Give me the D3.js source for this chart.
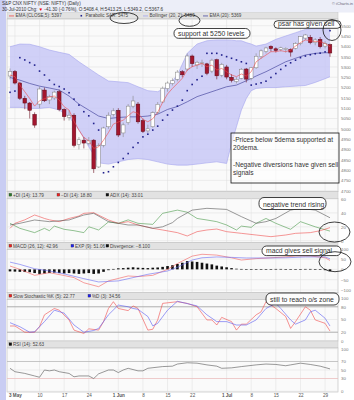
<!DOCTYPE html>
<meta charset="utf-8">
<script src="https://d3js.org/d3.v7.min.js"></script>
<style>
  body { margin: 0; background: #fff; }
  text { font-family: "Liberation Sans", Arial, sans-serif; }
</style>
<div id="chart"></div>
<script>
// trading days shown on the chart
const dates = [
  "2010-04-30",
  "2010-05-03","2010-05-04","2010-05-05","2010-05-06","2010-05-07","2010-05-10","2010-05-11","2010-05-12","2010-05-13","2010-05-14",
  "2010-05-17","2010-05-18","2010-05-19","2010-05-20","2010-05-21","2010-05-24","2010-05-25","2010-05-26","2010-05-27","2010-05-28","2010-05-31",
  "2010-06-01","2010-06-02","2010-06-03","2010-06-04","2010-06-07","2010-06-08","2010-06-09","2010-06-10","2010-06-11","2010-06-14",
  "2010-06-15","2010-06-16","2010-06-17","2010-06-18","2010-06-21","2010-06-22","2010-06-23","2010-06-24","2010-06-25","2010-06-28",
  "2010-06-29","2010-06-30","2010-07-01","2010-07-02","2010-07-05","2010-07-06","2010-07-07","2010-07-08","2010-07-09","2010-07-12",
  "2010-07-13","2010-07-14","2010-07-15","2010-07-16","2010-07-19","2010-07-20","2010-07-21","2010-07-22","2010-07-23","2010-07-26",
  "2010-07-27","2010-07-28","2010-07-29","2010-07-30"
];
const tickDates = ["2010-05-03","2010-05-10","2010-05-17","2010-05-24","2010-06-01","2010-06-08","2010-06-15","2010-06-22","2010-07-01","2010-07-08","2010-07-15","2010-07-22","2010-07-29"];
const tickLabels = ["3 May","10","17","24","1 Jun","8","15","22","1 Jul","8","15","22","29"];

// daily candles
const opens  = [5256,5278,5222,5148,5125,5070,5120,5188,5140,5150,5180,5094,5055,5066,4925,4945,4930,4945,4815,4920,5010,5070,
                5090,4980,5030,5110,5120,5040,4990,5010,5080,5130,5195,5220,5240,5277,5290,5353,5310,5318,5315,5280,
                5335,5260,5300,5250,5230,5245,5290,5245,5296,5350,5375,5400,5388,5385,5385,5385,5390,5414,5440,5444,
                5418,5434,5401,5408.4];
const highs  = [5293,5285,5228,5160,5130,5080,5205,5200,5165,5185,5190,5100,5090,5075,4960,4960,4960,4950,4930,5010,5080,5100,
                5100,5030,5120,5160,5130,5050,5020,5085,5130,5205,5230,5245,5285,5285,5365,5360,5330,5335,5320,5340,
                5340,5320,5310,5265,5250,5295,5295,5300,5366,5385,5398,5405,5395,5398,5395,5390,5420,5450,5460,5455,
                5440,5445,5425,5413.25];
const lows   = [5240,5215,5140,5095,5050,5005,5100,5130,5120,5140,5085,5040,5040,4910,4900,4905,4920,4786,4810,4910,5000,5060,
                4960,4960,5020,5100,5025,4980,4980,5005,5070,5125,5180,5210,5230,5250,5280,5300,5290,5300,5260,5270,
                5240,5250,5240,5225,5220,5240,5225,5235,5290,5340,5365,5375,5370,5375,5370,5350,5385,5405,5430,5410,
                5405,5390,5390,5349.2];
const closes = [5278,5222,5148,5125,5090,5018,5193,5136,5156,5178,5094,5059,5066,4920,4947,4931,4943,4806,4918,5004,5066,5087,
                4970,5019,5110,5135,5034,4987,5000,5078,5119,5197,5222,5233,5275,5262,5353,5316,5323,5320,5269,5333,
                5257,5312,5251,5235,5240,5289,5241,5296,5352,5378,5392,5389,5380,5393,5390,5372,5414,5447,5455,5418,
                5431,5398,5414,5367.6];

// overlays: [day index, value]
const emaFast = [[0,5261],[1,5253],[2,5212],[3,5180],[4,5147],[5,5110],[6,5136],[7,5146],[8,5154],[9,5159],[10,5139],[11,5107],
  [12,5091],[13,5037],[14,4994],[15,4958],[16,4942],[17,4905],[18,4913],[19,4945],[20,4982],[21,5023],[22,5033],[23,5042],
  [24,5063],[25,5083],[26,5075],[27,5046],[28,5034],[29,5049],[30,5080],[31,5128],[32,5169],[33,5196],[34,5220],[35,5245],
  [36,5285],[37,5301],[38,5309],[39,5317],[40,5301],[41,5309],[42,5285],[43,5293],[44,5277],[45,5261],[46,5253],[47,5266],
  [48,5256],[49,5277],[50,5325],[51,5342],[52,5358],[53,5374],[54,5374],[55,5379],[56,5374],[57,5382],[58,5401],[59,5418],
  [60,5431],[61,5427],[62,5423],[63,5423],[64,5414],[65,5398]];
const emaSlow = [[0,5249],[2,5236],[4,5220],[6,5207],[8,5198],[10,5188],[12,5159],[14,5120],[16,5091],[18,5062],[20,5050],
  [22,5055],[24,5058],[26,5058],[28,5062],[30,5071],[32,5094],[34,5108],[36,5131],[38,5156],[40,5172],[42,5188],[44,5204],
  [46,5212],[48,5233],[50,5256],[52,5277],[54,5301],[56,5325],[58,5342],[60,5358],[62,5366],[64,5369],[65,5369]];
// Bollinger band, read at these days
const bbDays  = [0,2,4,6,8,10,12,14,16,18,20,22,24,26,28,30,32,34,36,38,40,42,44,45,46,47,48,49,50,52,54,56,58,60,62,64,65];
const bbUpper = [5398,5411,5410,5398,5382,5371,5361,5325,5293,5261,5232,5228,5224,5204,5185,5180,5204,5261,5366,5411,5427,
                 5431,5431,5430,5427,5427,5418,5411,5401,5411,5434,5450,5466,5482,5489,5495,5495];
const bbLower = [5104,5104,5099,5099,5104,5091,5058,4994,4913,4835,4829,4840,4851,4856,4851,4840,4829,4824,4824,4829,4835,
                 4840,4832,4930,5010,5091,5147,5185,5196,5200,5200,5204,5207,5210,5225,5243,5253];
const sar = [[0,5177],[1,5183],[2,5345],[3,5334],[4,5321],[5,5309],[6,5280],[7,5261],[8,5236],[9,5215],[10,5205],[11,5193],
  [12,5175],[13,5144],[14,5115],[15,5083],[16,5063],[17,5026],[18,4994],[19,4787],[20,4792],[21,4816],[22,4837],[23,4856],
  [24,4880],[25,4910],[26,4932],[27,4961],[28,4974],[29,4994],[30,5013],[31,5042],[32,5067],[33,5091],[34,5110],[35,5139],
  [36,5185],[37,5215],[38,5238],[39,5255],[40,5366],[41,5366],[42,5366],[43,5358],[44,5350],[45,5342],[46,5334],[47,5325],
  [48,5317],[49,5212],[50,5217],[51,5223],[52,5231],[53,5249],[54,5268],[55,5288],[56,5306],[57,5320],[58,5333],[59,5345],
  [60,5353],[61,5359],[62,5364],[63,5367],[64,5373],[65,5476]];

// ADX panel
const plusDI = [[0,25],[2,17.8],[5,11.6],[7,17.8],[8,14.4],[9,21],[11,16.4],[13,14.4],[15,11.6],[16,20],[17,17.8],[18,15.4],
  [20,27],[22,25],[24,30],[26,25],[29,23.5],[31,39.4],[34,44],[36,41],[38,32],[40,29.8],[42,27.4],[44,22.6],[46,15.4],
  [47,21],[49,19.2],[50,25],[52,32],[54,25],[57,16.4],[59,27.4],[62,20],[65,13.79]];
const minusDI = [[0,17.8],[1,25],[3,30],[5,37],[6,34.6],[7,32],[8,30],[10,27.4],[12,32],[14,35.5],[15,39.4],[17,40.3],
  [20,29.8],[22,25],[24,27.4],[26,22.6],[29,17.8],[31,15.4],[34,11.6],[36,6.8],[38,13],[40,15.4],[42,16.8],[44,13],
  [47,10.6],[50,8.2],[53,5.8],[56,8.2],[58,10.6],[61,11.6],[63,14.4],[65,18.8]];
const adx = [[0,22.6],[2,25],[5,29.8],[8,27.4],[12,29.8],[15,37],[17,39.4],[20,27.4],[24,22.6],[26,22.6],[29,17.8],
  [31,20],[33,26],[34,32],[37,44],[40,46.6],[44,45],[47,34.6],[50,25],[52,27.4],[54,32],[57,44],[59,46.6],[62,44],[65,33.01]];

// MACD panel
const macd = [[0,16],[2,0],[5,-29],[8,-16],[11,-30],[13,-40],[15,-65],[18,-84],[20,-56],[24,-32],[26,-35],[29,-29],
  [32,0],[34,28],[37,64],[39,73],[42,69],[45,56],[47,45],[50,52],[53,56],[56,60],[58,65],[61,65],[64,56],[65,42.96]];
const signal = [[0,35],[2,24],[5,3],[8,-8],[11,-22],[15,-45],[18,-61],[22,-56],[25,-40],[28,-24],[32,-8],[34,10],
  [37,45],[39,56],[42,60],[45,58],[48,55],[52,55],[56,56],[60,60],[64,60],[65,51.06]];
const divergence = [-10,-11,-12,-13,-14,-18,-22,-20,-18,-16,-18,-20,-18,-20,-22,-20,-18,-22,-20,-12,-4,2,
  5,6,8,10,8,7,6,8,9,12,16,20,26,32,40,38,36,32,28,24,
  18,14,10,6,3,2,1,-1,-2,-1,1,1,2,2,1,-1,-1,1,2,2,
  1,-2,-4,-8.1];

// Slow stochastic panel
const stochK = [[0,34.7],[1,34.7],[3,20],[5,20],[6,33],[7,61],[9,76],[10,72],[12,49],[13,25],[15,17],[16,28],[18,25],
  [19,45],[20,76],[21,92],[22,76],[24,71],[25,82],[26,76],[28,25],[29,27],[30,49],[31,88],[34,92],[36,88],[38,80],
  [40,49],[41,49],[42,37],[43,55],[45,45],[46,25],[47,39],[48,39],[50,61],[51,68],[52,92],[54,76],[56,57],[57,29],
  [58,45],[60,80],[61,72],[62,49],[64,41],[65,22.77]];
const stochD = [[0,42.5],[2,33],[4,20],[5,21],[7,45],[9,72],[11,65],[13,37],[15,20],[17,24],[18,29],[20,61],[22,84],
  [24,80],[25,76],[26,74],[28,57],[29,35],[30,41],[32,72],[34,93],[38,82],[40,61],[42,45],[44,45],[46,37],[48,37],
  [50,49],[52,76],[54,88],[55,76],[57,49],[58,39],[60,49],[61,68],[62,72],[64,53],[65,34.56]];

// RSI panel
const rsi = [[0,54],[1,46],[3,42],[5,36],[6,33],[7,50],[8,48],[9,50],[10,46],[12,42],[13,34],[14,36],[16,36],[17,30],
  [18,41],[20,50],[21,50],[22,44],[23,50],[24,54],[26,48],[27,48],[28,54],[31,58],[33,59],[34,64],[36,67],[38,66],
  [40,62],[42,59],[43,54],[45,55],[47,58],[50,62],[52,64],[54,63],[56,60],[57,62],[59,66],[61,63],[63,59],[65,52.63]];

// ---------------------------------------------------------------
const W = 354, H = 400, L = 7, R = 338;
const svg = d3.select("#chart").append("svg").attr("width", W).attr("height", H);

svg.append("rect").attr("width", W).attr("height", H).attr("fill", "#fff");
svg.append("rect").attr("x", 0).attr("y", 0).attr("width", W).attr("height", 12.5).attr("fill", "#eceef8");
svg.append("rect").attr("x", 0).attr("y", 0).attr("width", 6).attr("height", H).attr("fill", "#c9cdf3");

const x = d3.scaleLinear().domain([0, dates.length - 1]).range([10, 330]);
const tickIdx = tickDates.map(d => dates.indexOf(d));

const panels = [
  {key: "price", top: 12.7, leg: 6.3, bottom: 191.7, y: d3.scaleLinear().domain([4700, 5500]).range([190.7, 25.7]), ticks: d3.range(4700, 5501, 50)},
  {key: "adx",   top: 191.7, leg: 6.6, bottom: 242.7, y: d3.scaleLinear().domain([0, 60]).range([240.7, 199]), ticks: [0, 20, 40, 60]},
  {key: "macd",  top: 242.7, leg: 6.6, bottom: 292.7, y: d3.scaleLinear().domain([-100, 100]).range([290, 248.7]), ticks: [-100, -50, 0, 50, 100]},
  {key: "stoch", top: 292.7, leg: 6.6, bottom: 341, y: d3.scaleLinear().domain([0, 100]).range([340.7, 298.3]), ticks: [0, 20, 50, 80, 100]},
  {key: "rsi",   top: 341, leg: 7, bottom: 392, y: d3.scaleLinear().domain([0, 100]).range([391.3, 348.7]), ticks: [0, 30, 50, 70, 100]}
];
const P = {};
panels.forEach(p => P[p.key] = p);

panels.forEach(p => {
  const g = svg.append("g");
  g.append("rect").attr("x", L).attr("y", p.top).attr("width", R - L).attr("height", p.leg)
    .attr("fill", "#e2e2e2").attr("stroke", "#c4c4c4").attr("stroke-width", 0.5);
  g.append("rect").attr("x", L).attr("y", p.top + p.leg).attr("width", R - L).attr("height", p.bottom - p.top - p.leg)
    .attr("fill", "#fafafa").attr("stroke", "#b8b8b8").attr("stroke-width", 0.6);
  // grid
  g.selectAll(".hg").data(p.ticks.filter(t => p.y(t) > p.top + p.leg + 0.5 && p.y(t) < p.bottom - 0.5)).join("line")
    .attr("x1", L).attr("x2", R).attr("y1", d => p.y(d)).attr("y2", d => p.y(d))
    .attr("stroke", "#dedede").attr("stroke-width", 0.5);
  g.selectAll(".vg").data(tickIdx).join("line")
    .attr("x1", d => x(d)).attr("x2", d => x(d)).attr("y1", p.top + p.leg).attr("y2", p.bottom)
    .attr("stroke", "#dedede").attr("stroke-width", 0.5);
  // right axis
  const ax = g.append("g").attr("transform", `translate(${R + 3},0)`)
    .call(d3.axisRight(p.y).tickValues(p.ticks).tickSize(0).tickFormat(d3.format("d")));
  ax.select(".domain").remove();
  ax.selectAll("text").attr("x", 0).attr("fill", "#777").style("font-size", "4.4px");
  p.g = g;
});

// x axis labels
const xa = svg.append("g").attr("transform", "translate(0,392.5)")
  .call(d3.axisBottom(x).tickValues(tickIdx).tickSize(0).tickFormat((d, i) => tickLabels[i]));
xa.select(".domain").remove();
xa.selectAll("text").attr("y", 1.2).attr("fill", "#555").style("font-size", "4.6px")
  .style("font-weight", (d, i) => /[A-Za-z]/.test(tickLabels[i]) ? "bold" : "normal");

// ---------- price panel
const py = P.price.y;
const band = d3.area().x((d, i) => x(bbDays[i])).y0((d, i) => py(bbLower[i])).y1(d => py(d));
svg.append("path").datum(bbUpper).attr("d", band).attr("fill", "#c8c8f6").attr("opacity", 0.85);
[bbUpper, bbLower].forEach(s => svg.append("path").datum(s)
  .attr("d", d3.line().x((d, i) => x(bbDays[i])).y(d => py(d)))
  .attr("fill", "none").attr("stroke", "#a4a4ee").attr("stroke-width", 0.6));
svg.append("path").datum(emaSlow).attr("d", d3.line().x(d => x(d[0])).y(d => py(d[1])))
  .attr("fill", "none").attr("stroke", "#4a4aa0").attr("stroke-width", 0.7);

const candles = svg.append("g").selectAll("g").data(dates.map((d, i) => i)).join("g");
candles.append("line")
  .attr("x1", i => x(i)).attr("x2", i => x(i))
  .attr("y1", i => py(highs[i])).attr("y2", i => py(lows[i]))
  .attr("stroke", i => closes[i] >= opens[i] ? "#888" : "#6b1020").attr("stroke-width", 0.6);
candles.append("rect")
  .attr("x", i => x(i) - 1.8).attr("width", 3.6)
  .attr("y", i => py(Math.max(opens[i], closes[i])))
  .attr("height", i => Math.max(0.6, Math.abs(py(opens[i]) - py(closes[i]))))
  .attr("fill", i => closes[i] >= opens[i] ? "#fff" : "#a3162e")
  .attr("stroke", i => closes[i] >= opens[i] ? "#808080" : "#5e0a18").attr("stroke-width", 0.5);

svg.append("path").datum(emaFast).attr("d", d3.line().x(d => x(d[0])).y(d => py(d[1])))
  .attr("fill", "none").attr("stroke", "#ee4a4a").attr("stroke-width", 0.6);
svg.append("g").selectAll("rect").data(sar).join("rect")
  .attr("x", d => x(d[0]) - 0.8).attr("y", d => py(d[1]) - 0.8).attr("width", 1.6).attr("height", 1.6)
  .attr("fill", "#20208c");

// ---------- indicator lines
function line(panel, data, color, w) {
  const yy = P[panel].y;
  svg.append("path").datum(data).attr("d", d3.line().x(d => x(d[0])).y(d => yy(d[1])))
    .attr("fill", "none").attr("stroke", color).attr("stroke-width", w || 0.6);
}
line("adx", plusDI, "#4c9a4c");
line("adx", minusDI, "#f05050");
line("adx", adx, "#555");

const my = P.macd.y;
svg.append("g").selectAll("rect").data(divergence).join("rect")
  .attr("x", (d, i) => x(i) - 1.3).attr("width", 2.6)
  .attr("y", d => my(Math.max(0, d))).attr("height", d => Math.max(0.6, Math.abs(my(d) - my(0))))
  .attr("fill", "#111");
line("macd", macd, "#f26060");
line("macd", signal, "#6a6af2");

const sy = P.stoch.y;
[80, 20].forEach(v => svg.append("line").attr("x1", L).attr("x2", R).attr("y1", sy(v)).attr("y2", sy(v))
  .attr("stroke", "#9a9a9a").attr("stroke-width", 0.7));
line("stoch", stochK, "#f04a4a");
line("stoch", stochD, "#5a5af0");

const ry = P.rsi.y;
svg.append("line").attr("x1", L).attr("x2", R).attr("y1", ry(70)).attr("y2", ry(70)).attr("stroke", "#aaa").attr("stroke-width", 0.6);
svg.append("line").attr("x1", L).attr("x2", R).attr("y1", ry(30)).attr("y2", ry(30)).attr("stroke", "#f0b4b4").attr("stroke-width", 0.6);
line("rsi", rsi, "#555");

// ---------- header and legends
const fs = "4.6px";
svg.append("text").attr("x", 2).attr("y", 4.6).style("font-size", fs).attr("fill", "#333")
  .text("S&P CNX NIFTY (NSE: NIFTY) (Daily)");
const h2 = svg.append("text").attr("x", 2).attr("y", 10.6).style("font-size", fs).attr("fill", "#333");
h2.append("tspan").text("30-Jul-2010 Chg: ");
h2.append("tspan").attr("fill", "#e00").text("▼");
h2.append("tspan").text(" -41.30 (-0.76%), O:5408.4, H:5413.25, L:5349.2, C:5367.6");
svg.append("text").attr("x", 353).attr("y", 5).attr("text-anchor", "end").style("font-size", "4px").attr("fill", "#667")
  .text("© iCharts.in");

function legend(panel, items) {
  const yy = P[panel].top + P[panel].leg / 2 + 1.6;
  items.forEach(it => {
    if (it.kind === "line") svg.append("line").attr("x1", it.x).attr("x2", it.x + 5).attr("y1", yy - 1.5).attr("y2", yy - 1.5)
      .attr("stroke", it.c).attr("stroke-width", 0.8);
    else if (it.kind === "dot") svg.append("rect").attr("x", it.x + 1.5).attr("y", yy - 2.5).attr("width", 1.6).attr("height", 1.6).attr("fill", it.c);
    else svg.append("rect").attr("x", it.x).attr("y", yy - 3.3).attr("width", 2.8).attr("height", 2.8).attr("fill", it.c).attr("stroke", "#333").attr("stroke-width", 0.3);
    svg.append("text").attr("x", it.x + (it.kind === "sq" ? 4 : 6.5)).attr("y", yy).style("font-size", fs).attr("fill", "#444").text(it.t);
  });
}
legend("price", [
  {x: 9, kind: "line", c: "#ee4a4a", t: "EMA (CLOSE,5): 5397"},
  {x: 79, kind: "dot", c: "#20208c", t: "Parabolic SAR: 5475"},
  {x: 143, kind: "line", c: "#a4a4ee", t: "Bollinger (20, 2): 5489"},
  {x: 203, kind: "line", c: "#4a4aa0", t: "EMA (20): 5369"}
]);
legend("adx", [
  {x: 9, kind: "sq", c: "#2a7a2a", t: "+DI (14): 13.79"},
  {x: 57, kind: "sq", c: "#f02020", t: "−DI (14): 18.80"},
  {x: 106, kind: "sq", c: "#111", t: "ADX (14): 33.01"}
]);
legend("macd", [
  {x: 9, kind: "sq", c: "#f02020", t: "MACD (26, 12): 42.96"},
  {x: 71, kind: "sq", c: "#2020f0", t: "EXP (9): 51.06"},
  {x: 106, kind: "sq", c: "#111", t: "Divergence: −8.100"}
]);
legend("stoch", [
  {x: 9, kind: "sq", c: "#f02020", t: "Slow Stochastic %K (5): 22.77"},
  {x: 88, kind: "sq", c: "#2020f0", t: "%D (3): 34.56"}
]);
legend("rsi", [
  {x: 9, kind: "sq", c: "#111", t: "RSI (14): 52.63"}
]);

// ---------- hand-drawn notes
const notes = svg.append("g").attr("fill", "none").attr("stroke", "#111").attr("stroke-width", 0.8);
function box(x0, y0, w, h, t, r) {
  notes.append("rect").attr("x", x0).attr("y", y0).attr("width", w).attr("height", h).attr("rx", r).attr("fill", "#fff").attr("fill-opacity", 0.9);
  svg.append("text").attr("x", x0 + 4).attr("y", y0 + h - 2.6).style("font-size", "6.8px").attr("fill", "#333").text(t);
}
box(174, 28.5, 76, 9.8, "support at 5250 levels", 4.5);
box(274, 20.7, 67, 7.6, "psar has given sell", 3.8);
box(259, 197.5, 67, 12, "negative trend rising", 5);
box(262, 246, 79, 9.6, "macd gives sell signal", 4.5);
box(266, 293, 73, 12, "still to reach o/s zone", 5);

notes.append("rect").attr("x", 231).attr("y", 133).attr("width", 108).attr("height", 50).attr("fill", "#fff").attr("fill-opacity", 0.6);
[["-Prices below 5dema supported at", 142], ["20dema.", 150], ["-Negative diversions have given sell", 167], ["signals", 175]]
  .forEach(([t, yy]) => svg.append("text").attr("x", 233).attr("y", yy).style("font-size", "6.6px").attr("fill", "#333").text(t));

[[124, 18, 14, 5.5], [189.5, 20.5, 10.5, 5.8], [332, 30, 9, 10.5], [334.5, 232, 15.5, 10], [335, 261.7, 16, 10]]
  .forEach(([cx, cy, rx, ry2]) => notes.append("ellipse").attr("cx", cx).attr("cy", cy).attr("rx", rx).attr("ry", ry2));
</script>
